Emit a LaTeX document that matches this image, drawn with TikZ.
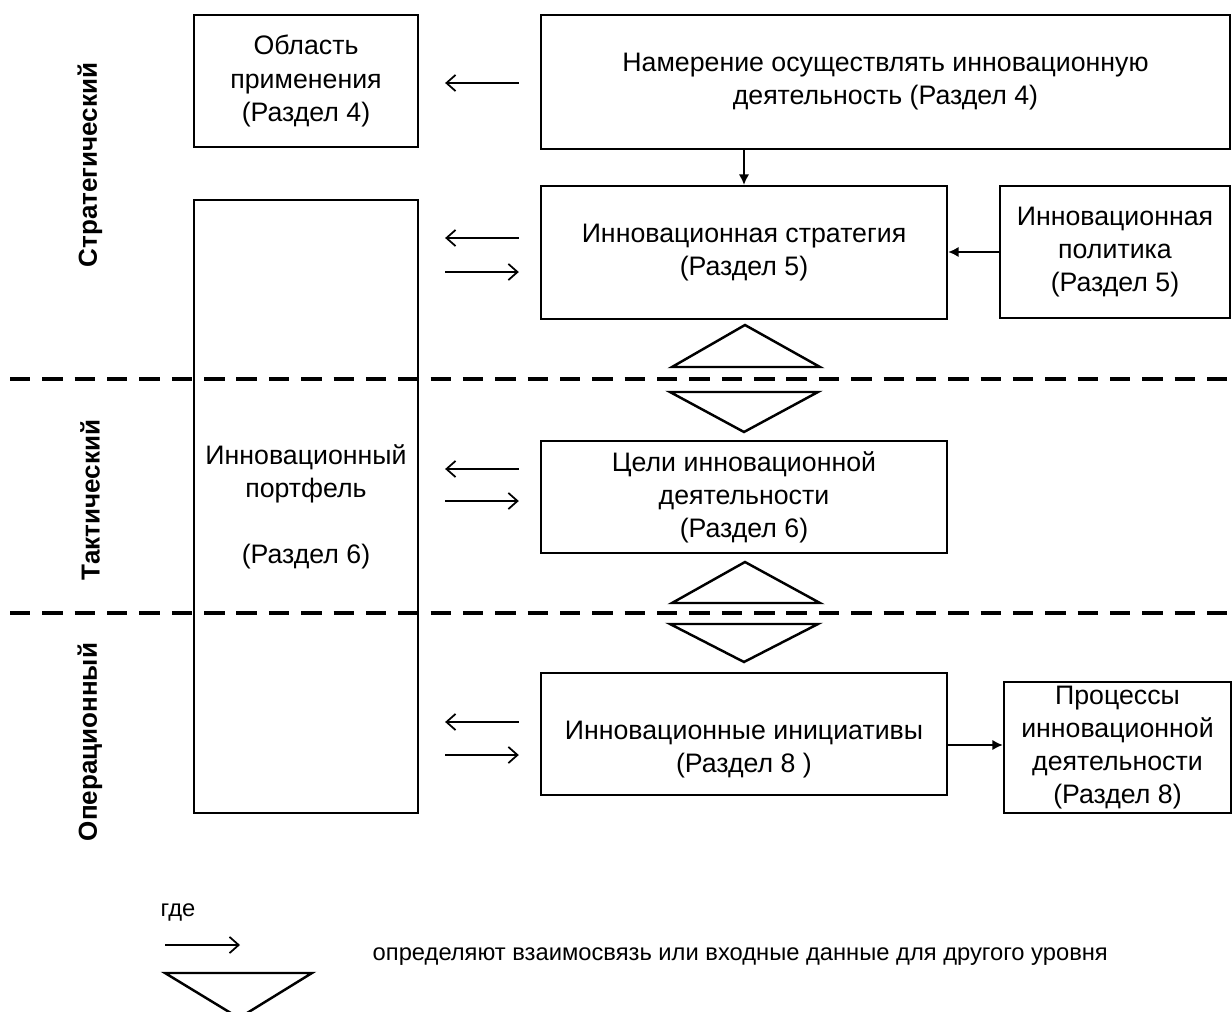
\documentclass[tikz,border=0pt]{standalone}
\usepackage{fontspec}
\setmainfont{Liberation Sans}
\usepackage{tikz}
\usetikzlibrary{arrows.meta}

\tikzset{
    box/.style={draw, line width=0.6pt, inner sep=0pt, align=center, font=\fontsize{7.6}{9.4}\selectfont},
    txt/.style={inner sep=0pt, align=center, font=\fontsize{7.6}{9.4}\selectfont},
    keyfont/.style={font=\fontsize{6.75}{8}\selectfont},
    level/.style={rotate=90, inner sep=0pt, font=\fontsize{7.4}{9.4}\selectfont\bfseries},
    link/.style={-{Straight Barb[length=2.6pt, width=4.6pt]}, line width=0.5pt},
    tolink/.style={link, shorten <=0.21cm, shorten >=0.26cm},
    fromlink/.style={link, shorten <=0.26cm, shorten >=0.21cm},
    feed/.style={-{Latex[length=3pt, width=3pt]}, line width=0.6pt},
    split/.style={line width=1pt, dash pattern=on 5.8pt off 3.4pt},
    wedge/.style={line width=0.7pt, line join=miter}
}

\begin{document}
\begin{tikzpicture}[x=0.01cm, y=-0.01cm]
    \clip (0,0) rectangle (1232,1012);

    \node[box, minimum width=2.24cm, minimum height=1.32cm] (scope) at (306,81) {Область\\ применения\\ (Раздел 4)};
    \node[box, minimum width=6.89cm, minimum height=1.34cm] (intent) at (885.5,82) {Намерение осуществлять инновационную\\ деятельность (Раздел 4)};
    \node[box, minimum width=4.06cm, minimum height=1.33cm] (strat) at (744,252.5) {Инновационная стратегия\\ (Раздел 5)};
    \node[box, minimum width=2.30cm, minimum height=1.32cm] (policy) at (1115,252) {Инновационная\\ политика\\ (Раздел 5)};
    \node[box, minimum width=2.24cm, minimum height=6.13cm] (port) at (306,506.5) {Инновационный\\ портфель\\[9.4pt] (Раздел 6)};
    \node[box, minimum width=4.06cm, minimum height=1.12cm] (goals) at (744,497) {Цели инновационной\\ деятельности\\ (Раздел 6)};
    \node[box, minimum width=4.06cm, minimum height=1.22cm] (init) at (744,734) {};
    \node[txt] (initlbl) at (744,750) {Инновационные инициативы\\ (Раздел 8 )};
    \node[box, minimum width=2.27cm, minimum height=1.31cm] (proc) at (1117.5,747.5) {Процессы\\ инновационной\\ деятельности\\ (Раздел 8)};

    \node[level] (lstrat) at (90,165) {Стратегический};
    \node[level] (ltact) at (90,500) {Тактический};
    \node[level] (loper) at (90,742) {Операционный};

    \draw[split] (10,379) -- (1232,379);
    \draw[split] (10,613) -- (1232,613);

    \draw[tolink] (intent.west |- 0,83) -- (scope.east |- 0,83);
    \draw[tolink] (strat.west |- 0,238) -- (port.east |- 0,238);
    \draw[fromlink] (port.east |- 0,272) -- (strat.west |- 0,272);
    \draw[tolink] (goals.west |- 0,469) -- (port.east |- 0,469);
    \draw[fromlink] (port.east |- 0,501) -- (goals.west |- 0,501);
    \draw[tolink] (init.west |- 0,722) -- (port.east |- 0,722);
    \draw[fromlink] (port.east |- 0,755) -- (init.west |- 0,755);

    \draw[feed] (intent.south -| strat.north) -- (strat.north);
    \draw[feed] (policy.west) -- (strat.east |- policy.west);
    \draw[feed] (init.east |- 0,745) -- (proc.west |- 0,745);

    \draw[wedge] (672,367) -- (745,325) -- (820,367) -- cycle;
    \draw[wedge] (670,392) -- (744,432) -- (818,392) -- cycle;
    \draw[wedge] (672,603) -- (745,562) -- (820,603) -- cycle;
    \draw[wedge] (670,624) -- (744,662) -- (818,624) -- cycle;

    \node[txt, keyfont, anchor=west] (where) at (160,912) {где};
    \coordinate (keyA) at (165,945);
    \coordinate (keyB) at (240,945);
    \draw[link] (keyA) -- (keyB);
    \draw[wedge] (165,973) -- (239,1018) -- (312,973) -- cycle;
    \node[txt, keyfont, anchor=west] (keytext) at (372,957) {определяют взаимосвязь или входные данные для другого уровня};
\end{tikzpicture}
\end{document}
